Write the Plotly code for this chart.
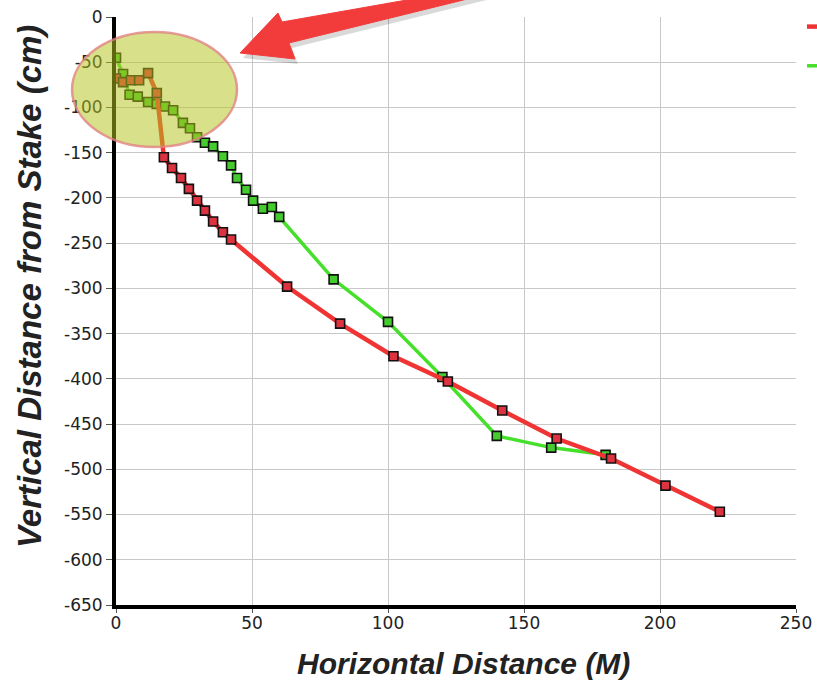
import plotly.graph_objects as go

# ---- data ----
red_x = [0, 2.6, 5.5, 8.5, 11.8, 15, 17.6, 20.6, 23.9, 26.8, 29.8, 32.7, 35.7, 39.3, 42.3,
         62.9, 82.4, 102, 122, 142, 162, 182, 202, 222]
red_y = [-68, -72, -70, -70, -62, -84, -155, -167, -178, -190, -203, -214, -226, -238, -246,
         -298, -339, -375, -403, -435, -466, -488, -518, -547]

green_x = [0, 2.6, 5, 8, 11.8, 15, 18, 21, 24.6, 27.2, 29.8, 32.7, 35.7, 39.3, 42.3, 44.5,
           47.8, 50.4, 54, 57.3, 60, 80, 100, 120, 140, 160, 180]
green_y = [-45, -63, -86, -88, -94, -96, -99, -103, -117, -123, -133, -139, -143, -154, -164, -178,
           -191, -203, -212, -210, -221, -290, -337, -398, -463, -476, -484]

series_names = ["Series 1", "Series 2"]
x_ticks = [0, 50, 100, 150, 200, 250]
x_tick_labels = ["0", "50", "100", "150", "200", "250"]
y_ticks = [0, -50, -100, -150, -200, -250, -300, -350, -400, -450, -500, -550, -600, -650]
y_tick_labels = ["0", "-50", "-100", "-150", "-200", "-250", "-300", "-350", "-400",
                 "-450", "-500", "-550", "-600", "-650"]
x_title = "Horizontal Distance (M)"
y_title = "Vertical Distance from Stake (cm)"

# ---- geometry (page pixels; body margin removed by post_script) ----
W, H = 817, 683
L, R, T, B = 116, 796, 17, 605


def px(x):
    return (x - L) / (R - L)


def py(y):
    return (B - y) / (B - T)


def path(points):
    return "M " + " L ".join(f"{px(x):.4f},{py(y):.4f}" for x, y in points) + " Z"


RED_LINE = dict(color="#f03434", width=4.5)
GREEN_LINE = dict(color="#44e02a", width=3.5)

fig = go.Figure()

fig.add_trace(go.Scatter(
    x=green_x, y=green_y, mode="lines+markers", name=series_names[1], showlegend=False,
    line=GREEN_LINE,
    marker=dict(symbol="square", size=9, color="#44cc2e", line=dict(color="#111", width=1.6)),
))
fig.add_trace(go.Scatter(
    x=red_x, y=red_y, mode="lines+markers", name=series_names[0], showlegend=False,
    line=RED_LINE,
    marker=dict(symbol="square", size=9, color="#dd3340", line=dict(color="#111", width=1.6)),
))
# legend entries (line samples only, as in the reference)
fig.add_trace(go.Scatter(x=[None], y=[None], mode="lines", name=series_names[0],
                         legendgroup="r", legendrank=1, line=RED_LINE))
fig.add_trace(go.Scatter(x=[None], y=[None], mode="lines", name=series_names[1],
                         legendgroup="g", legendrank=2, line=GREEN_LINE))

arrow = [(240, 53), (278, 13), (282, 22), (520, -20), (520, -14), (289, 43), (295, 59)]
shadow = [(x + 3, y + 5) for x, y in arrow]

shapes = [
    dict(type="circle", xref="paper", yref="paper",
         x0=px(72), x1=px(237), y0=py(147), y1=py(32),
         fillcolor="rgba(180,195,30,0.52)", line=dict(color="rgba(225,130,130,0.8)", width=2.5),
         layer="above"),
    dict(type="path", xref="paper", yref="paper", path=path(shadow),
         fillcolor="rgba(0,0,0,0.15)", line=dict(width=0), layer="above"),
    dict(type="path", xref="paper", yref="paper", path=path(arrow),
         fillcolor="#f23c3c", line=dict(color="#f23c3c", width=1), layer="above"),
]

FONT = "Liberation Sans, Arial, sans-serif"
tick_font = dict(family="DejaVu Sans, Liberation Sans, sans-serif", size=17, color="#222")

annotations = [
    dict(text=f"<b><i>{x_title}</i></b>", xref="paper", yref="paper",
         x=px(463), y=py(663), xanchor="center", yanchor="middle", showarrow=False,
         font=dict(family=FONT, size=30, color="#222")),
    dict(text=f"<b><i>{y_title}</i></b>", xref="paper", yref="paper", textangle=-90,
         x=px(29), y=py(287), xanchor="center", yanchor="middle", showarrow=False,
         font=dict(family=FONT, size=33, color="#222")),
]

fig.update_layout(
    width=W, height=H,
    margin=dict(l=L, r=W - R, t=T, b=H - B, autoexpand=False),
    paper_bgcolor="white", plot_bgcolor="white",
    shapes=shapes,
    annotations=annotations,
    showlegend=True,
    legend=dict(x=px(802), xanchor="left", y=py(11), yanchor="top",
                traceorder="grouped", tracegroupgap=18,
                font=dict(family=FONT, size=14, color="#222"),
                bgcolor="rgba(0,0,0,0)"),
    xaxis=dict(range=[0, 250], tickvals=x_ticks, ticktext=x_tick_labels,
               showgrid=True, gridcolor="#c8c8c8", gridwidth=1,
               zeroline=False, showline=True, linecolor="black", linewidth=4,
               ticks="outside", ticklen=4, tickcolor="#555", tickfont=tick_font,
               ticklabeloverflow="allow", ticklabelstandoff=-4),
    yaxis=dict(range=[-650, 0], tickvals=y_ticks, ticktext=y_tick_labels,
               showgrid=True, gridcolor="#c8c8c8", gridwidth=1,
               zeroline=False, showline=True, linecolor="black", linewidth=4,
               ticks="outside", ticklen=6, tickcolor="#555", tickfont=tick_font,
               ticklabeloverflow="allow"),
)

fig.write_html(
    "out.html",
    config={"displayModeBar": False},
    post_script="document.body.style.margin='0';document.body.style.overflow='hidden';",
)
